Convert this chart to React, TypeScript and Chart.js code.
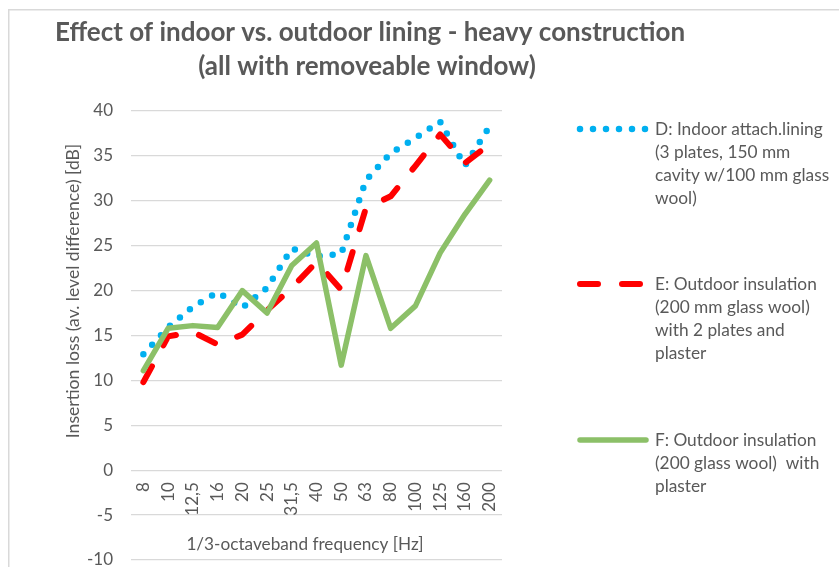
import React, { useEffect, useRef } from 'react';
import { Chart, registerables } from 'chart.js';

Chart.register(...registerables);

// ---------- data ----------
const categories = ['8', '10', '12,5', '16', '20', '25', '31,5', '40', '50', '63', '80', '100', '125', '160', '200'];
const seriesD = [12.9, 15.9, 18.2, 19.8, 18.1, 20.3, 24.7, 23.8, 24.1, 32.3, 35.3, 37.0, 38.8, 33.9, 38.3];
const seriesE = [9.8, 14.9, 15.4, 14.0, 15.1, 17.8, 20.3, 23.2, 20.1, 29.2, 30.5, 33.9, 37.4, 34.2, 36.3];
const seriesF = [11.1, 15.8, 16.1, 15.9, 20.0, 17.5, 22.8, 25.3, 11.7, 23.9, 15.8, 18.3, 24.2, 28.5, 32.3];
const legendD = ['D: Indoor attach.lining', '(3 plates, 150 mm', 'cavity w/100 mm glass', 'wool)'];
const legendE = ['E: Outdoor insulation', '(200 mm glass wool)', 'with 2 plates and', 'plaster'];
const legendF = ['F: Outdoor insulation', '(200 glass wool)  with', 'plaster'];
const titleLines = ['Effect of indoor vs. outdoor lining - heavy construction', '(all with removeable window)'];
const yAxisTitle = 'Insertion loss (av. level difference) [dB]';
const xAxisTitle = '1/3-octaveband frequency [Hz]';
const yMin = -10;
const yMax = 40;
const yStep = 5;

const FONT = 'Lato, "Open Sans", sans-serif';
const TEXT = '#595959';

const decorPlugin = {
  id: 'decor',
  beforeDraw(chart: any) {
    const ctx = chart.ctx as CanvasRenderingContext2D;
    ctx.save();
    ctx.fillStyle = '#ffffff';
    ctx.fillRect(0, 0, chart.width, chart.height);
    ctx.strokeStyle = '#d9d9d9';
    ctx.lineWidth = 1.5;
    ctx.strokeRect(8.75, 9.75, chart.width + 40, chart.height + 40);
    ctx.restore();
  },
  afterDraw(chart: any) {
    const ctx = chart.ctx as CanvasRenderingContext2D;
    ctx.save();
    ctx.fillStyle = TEXT;
    // title
    ctx.font = `bold 26px ${FONT}`;
    ctx.textAlign = 'center';
    ctx.textBaseline = 'alphabetic';
    ctx.fillText(titleLines[0], 370, 41);
    ctx.fillText(titleLines[1], 367, 75);

    // axis titles
    ctx.font = `17.2px ${FONT}`;
    ctx.textBaseline = 'middle';
    ctx.fillText(xAxisTitle, 305, 544);
    ctx.save();
    ctx.translate(73, 291);
    ctx.rotate(-Math.PI / 2);
    ctx.font = `17.6px ${FONT}`;
    ctx.fillText(yAxisTitle, 0, 0);
    ctx.restore();

    // legend
    const groups = [legendD, legendE, legendF];
    const ys = [129, 284, 440];
    chart.data.datasets.forEach((ds: any, i: number) => {
      const y = ys[i];
      ctx.save();
      ctx.strokeStyle = ds.borderColor;
      ctx.lineWidth = ds.borderWidth;
      ctx.lineCap = 'round';
      ctx.setLineDash(ds.borderDash || []);
      ctx.beginPath();
      ctx.moveTo(580, y);
      ctx.lineTo(646, y);
      ctx.stroke();
      ctx.restore();
      ctx.font = `17.3px ${FONT}`;
      ctx.textAlign = 'left';
      ctx.textBaseline = 'middle';
      groups[i].forEach((line, k) => {
        ctx.fillText(line, 655, y + k * 23.3);
      });
    });
    ctx.restore();
  },
};

export default function App() {
  const ref = useRef<HTMLCanvasElement | null>(null);
  useEffect(() => {
    if (!ref.current) return;
    const chart = new Chart(ref.current, {
      type: 'line',
      data: {
        labels: categories,
        datasets: [
          {
            label: legendD.join(' '),
            data: seriesD,
            borderColor: '#00b0f0',
            borderWidth: 6.5,
            borderDash: [0, 13],
            borderCapStyle: 'round',
            borderJoinStyle: 'round',
            pointRadius: 0,
            tension: 0,
            order: 2,
          },
          {
            label: legendE.join(' '),
            data: seriesE,
            borderColor: '#ff0000',
            borderWidth: 6,
            borderDash: [18, 24],
            borderCapStyle: 'round',
            borderJoinStyle: 'round',
            pointRadius: 0,
            tension: 0,
            order: 1,
          },
          {
            label: legendF.join(' '),
            data: seriesF,
            borderColor: '#8cc068',
            borderWidth: 5.5,
            borderCapStyle: 'round',
            borderJoinStyle: 'round',
            pointRadius: 0,
            tension: 0,
            order: 0,
          },
        ],
      },
      options: {
        responsive: false,
        animation: false,
        devicePixelRatio: 1,
        layout: { padding: { left: 0, top: 111, right: 337, bottom: 7 } },
        plugins: {
          legend: { display: false },
          title: { display: false },
          tooltip: { enabled: false },
        },
        scales: {
          y: {
            min: yMin,
            max: yMax,
            afterFit: (s: any) => {
              s.width = 131;
              s.paddingTop = 0;
              s.paddingBottom = 0;
            },
            ticks: {
              stepSize: yStep,
              padding: 18,
              color: TEXT,
              font: { family: FONT, size: 17 },
            },
            grid: { color: '#d9d9d9', lineWidth: 1.3, drawTicks: false },
            border: { display: false },
          },
          x: {
            type: 'category',
            position: { y: 0 } as any,
            offset: true,
            afterFit: (s: any) => {
              s.height = 0;
              s.paddingLeft = 0;
              s.paddingRight = 0;
            },
            ticks: {
              autoSkip: false,
              minRotation: 90,
              maxRotation: 90,
              padding: 12,
              color: TEXT,
              font: { family: FONT, size: 17 },
            },
            grid: { display: false, drawTicks: false },
            border: { display: false },
          },
        },
      },
      plugins: [decorPlugin],
    } as any);
    return () => chart.destroy();
  }, []);
  return (
    <div style={{ position: 'fixed', left: 0, top: 0, width: 839, height: 567, background: '#fff' }}>
      <canvas ref={ref} width={839} height={567} style={{ display: 'block', width: 839, height: 567 }} />
    </div>
  );
}
